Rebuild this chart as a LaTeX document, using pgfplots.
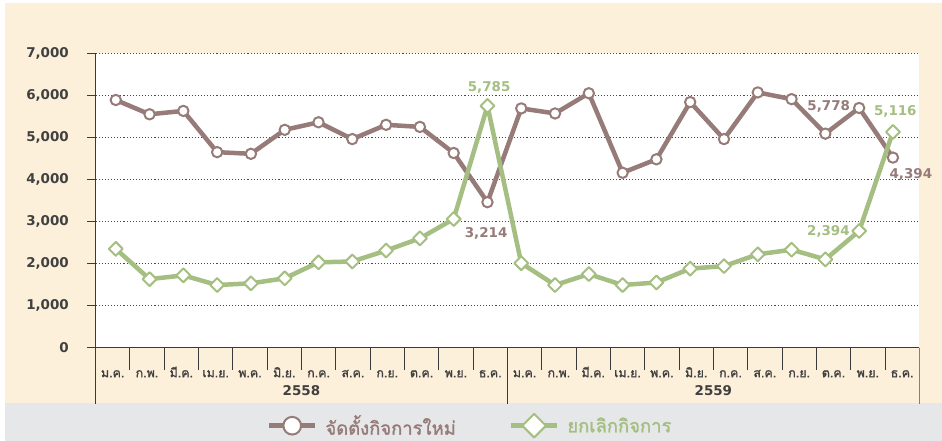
\documentclass[border=0pt]{standalone}
\usepackage{pgfplots}
\pgfplotsset{compat=1.18}
\usepackage{fontspec}
\setmainfont{DejaVu Sans}
\newfontfamily\thaifont[Script=Thai, FakeBold=1.4]{Loma}
\definecolor{creamc}{HTML}{FDF0DA}
\definecolor{greyc}{HTML}{E6E7E8}
\definecolor{brownc}{HTML}{967B79}
\definecolor{greenc}{HTML}{A5BE82}
\definecolor{txtc}{HTML}{404040}
\definecolor{axc}{HTML}{3A3A3A}
\definecolor{gridc}{HTML}{4A4A4A}
\begin{document}
\begin{tikzpicture}
\fill[white] (0bp,0bp) rectangle (942bp,441bp);
\fill[creamc] (5bp,38bp) rectangle (942bp,438bp);
\fill[greyc] (5bp,0bp) rectangle (942bp,38bp);
\begin{axis}[
 at={(95.5bp,93.3bp)}, anchor=south west,
 scale only axis, width=823.8bp, height=294.4bp,
 xmin=-0.6, xmax=23.78, ymin=0, ymax=7000,
 clip=false,
 axis background/.style={fill=white},
 axis x line*=bottom, axis y line*=left,
 axis line style={-, draw=axc, line width=1bp},
 ytick={0,1000,...,7000},
 ymajorgrids, grid style={dash pattern=on 1.1bp off 2bp, draw=gridc, line width=0.9bp},
 tick align=outside, major tick length=8bp,
 ytick style={draw=axc, line width=0.9bp},
 xtick style={draw=none},
 xtick={-0.0921,0.92374,...,23.5},
 xticklabels={ม.ค.,ก.พ.,มี.ค.,เม.ย.,พ.ค.,มิ.ย.,ก.ค.,ส.ค.,ก.ย.,ต.ค.,พ.ย.,ธ.ค.,ม.ค.,ก.พ.,มี.ค.,เม.ย.,พ.ค.,มิ.ย.,ก.ค.,ส.ค.,ก.ย.,ต.ค.,พ.ย.,ธ.ค.},
 x tick label style={font=\thaifont\fontsize{12.5}{12.5}\selectfont, text=txtc, anchor=base, yshift=-21.5bp, inner sep=0pt},
 y tick label style={font=\bfseries\fontsize{13.5}{13.5}\selectfont, text=txtc, anchor=east, inner sep=0pt, xshift=-18.5bp},
 /pgf/number format/assume math mode=true,
 /pgf/number format/1000 sep={,},
 legend style={at={(0.4585,-0.265)}, anchor=center, draw=none, fill=none, legend columns=2,
   font=\thaifont\fontsize{18.5}{18.5}\selectfont,
   /tikz/every even column/.append style={column sep=45bp},
   nodes={inner xsep=8bp}},
 legend image code/.code={\draw[#1, mark repeat=2, mark phase=2, every mark/.append style={scale=1.7}] plot coordinates {(0bp,0bp) (23bp,0bp) (46bp,0bp)};},
]
\addplot[brownc, line width=4.5bp, line join=round, mark=*, mark size=5.2bp, mark options={fill=white, draw=brownc, line width=2bp}] coordinates {
(0,5890) (1,5550) (2,5630) (3,4650) (4,4610) (5,5180) (6,5360) (7,4960) (8,5300) (9,5250) (10,4630) (11,3460)
(12,5690) (13,5570) (14,6050) (15,4160) (16,4480) (17,5840) (18,4960) (19,6070) (20,5910) (21,5090) (22,5700) (23,4520)};
\addlegendentry{\textcolor{brownc}{จัดตั้งกิจการใหม่}}
\addplot[greenc, line width=4.5bp, line join=round, mark=square*, mark size=4.9bp, mark options={rotate=45, fill=white, draw=greenc, line width=2bp}] coordinates {
(0,2350) (1,1630) (2,1720) (3,1490) (4,1530) (5,1650) (6,2030) (7,2050) (8,2310) (9,2600) (10,3060) (11,5750)
(12,2010) (13,1490) (14,1750) (15,1490) (16,1550) (17,1880) (18,1940) (19,2220) (20,2330) (21,2100) (22,2775) (23,5130)};
\addlegendentry{\textcolor{greenc}{ยกเลิกกิจการ}}
\pgfplotsinvokeforeach{0,...,24}{\draw[axc, line width=0.9bp] (axis cs:{-0.6+1.01584*#1},0) -- ++(0bp,-22.5bp);}
\draw[axc, line width=1bp] (axis cs:-0.6,0) -- ++(0bp,-56.3bp);
\draw[axc, line width=1bp] (axis cs:11.59,0) -- ++(0bp,-56.3bp);
\draw[black!50, line width=1bp] (axis cs:23.78,0) -- ++(0bp,-56.3bp);
\node[font=\bfseries\fontsize{13.5}{13.5}\selectfont, text=txtc, anchor=base, yshift=-47.5bp] at (axis cs:5.495,0) {2558};
\node[font=\bfseries\fontsize{13.5}{13.5}\selectfont, text=txtc, anchor=base, yshift=-47.5bp] at (axis cs:17.685,0) {2559};
\node[font=\bfseries\fontsize{13.5}{13.5}\selectfont, text=greenc, anchor=base] at (axis cs:11.05,6080) {5,785};
\node[font=\bfseries\fontsize{13.5}{13.5}\selectfont, text=brownc, anchor=base] at (axis cs:10.96,2630) {3,214};
\node[font=\bfseries\fontsize{13.5}{13.5}\selectfont, text=brownc, anchor=base] at (axis cs:21.1,5650) {5,778};
\node[font=\bfseries\fontsize{13.5}{13.5}\selectfont, text=greenc, anchor=base] at (axis cs:23.07,5510) {5,116};
\node[font=\bfseries\fontsize{13.5}{13.5}\selectfont, text=brownc, anchor=base] at (axis cs:23.53,4030) {4,394};
\node[font=\bfseries\fontsize{13.5}{13.5}\selectfont, text=greenc, anchor=base] at (axis cs:21.09,2660) {2,394};
\end{axis}
\end{tikzpicture}
\end{document}
